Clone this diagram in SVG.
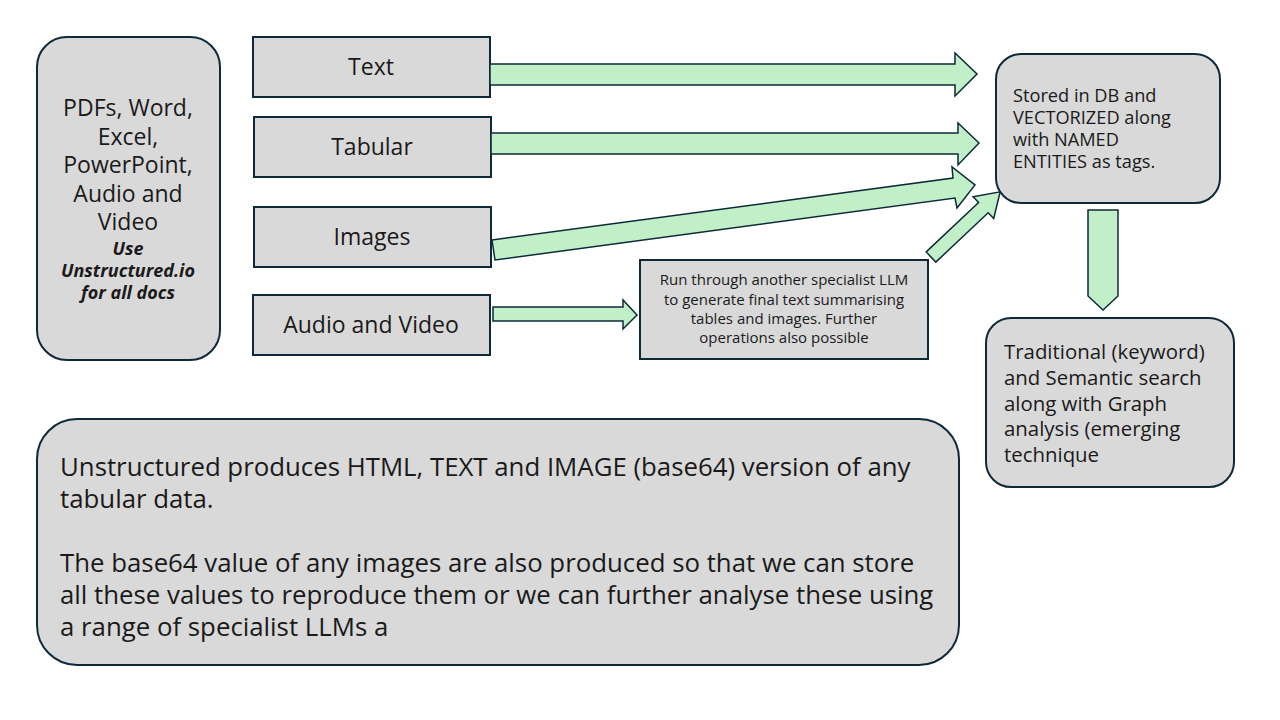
<svg xmlns="http://www.w3.org/2000/svg" width="1280" height="720" viewBox="0 0 1280 720">
<style>
.box{fill:#d9d9d9;stroke:#0e2a3a;stroke-width:2}
.arr{fill:#c1f0c8;stroke:#0e2a3a;stroke-width:1.5;stroke-linejoin:miter}
text{font-family:"Open Sans","Noto Sans",sans-serif;fill:#1a1a1a}
.c{text-anchor:middle}
</style>
<rect width="1280" height="720" fill="#ffffff"/>
<g id="sources">
<rect class="box" x="37" y="37" width="183" height="323" rx="30"/>
<text class="c" font-size="23"><tspan x="128" y="116">PDFs, Word,</tspan><tspan x="128" y="145">Excel,</tspan><tspan x="128" y="173">PowerPoint,</tspan><tspan x="128" y="202">Audio and</tspan><tspan x="128" y="230">Video</tspan></text>
<text class="c" font-size="18" font-weight="bold" font-style="italic" fill="#000"><tspan x="128" y="255">Use</tspan><tspan x="128" y="277">Unstructured.io</tspan><tspan x="128" y="299">for all docs</tspan></text>
</g>
<g id="text-node"><rect class="box" x="253" y="37" width="237" height="60"/><text class="c" x="371" y="75" font-size="23">Text</text></g>
<g id="tabular-node"><rect class="box" x="254" y="117" width="237" height="60"/><text class="c" x="372" y="155" font-size="23">Tabular</text></g>
<g id="images-node"><rect class="box" x="254" y="207" width="237" height="60"/><text class="c" x="372" y="245" font-size="23">Images</text></g>
<g id="av-node"><rect class="box" x="253" y="295" width="237" height="60"/><text class="c" x="371" y="333" font-size="23">Audio and Video</text></g>
<g id="llm-node"><rect class="box" x="640" y="260" width="288" height="99"/>
<text class="c" font-size="15"><tspan x="784" y="285">Run through another specialist LLM</tspan><tspan x="784" y="305">to generate final text summarising</tspan><tspan x="784" y="324">tables and images. Further</tspan><tspan x="784" y="343">operations also possible</tspan></text></g>
<g id="stored-node"><rect class="box" x="996" y="54" width="224" height="149" rx="25"/>
<text font-size="18.2"><tspan x="1013" y="102">Stored in DB and</tspan><tspan x="1013" y="124">VECTORIZED along</tspan><tspan x="1013" y="146">with NAMED</tspan><tspan x="1013" y="168">ENTITIES as tags.</tspan></text></g>
<g id="search-node"><rect class="box" x="986" y="318" width="248" height="169" rx="25"/>
<text font-size="20.4"><tspan x="1004" y="359">Traditional (keyword)</tspan><tspan x="1004" y="385">and Semantic search</tspan><tspan x="1004" y="411">along with Graph</tspan><tspan x="1004" y="436">analysis (emerging</tspan><tspan x="1004" y="462">technique</tspan></text></g>
<g id="note-node"><rect class="box" x="37" y="419" width="922" height="246" rx="40"/>
<text font-size="25.8"><tspan x="60" y="476">Unstructured produces HTML, TEXT and IMAGE (base64) version of any</tspan><tspan x="60" y="508">tabular data.</tspan><tspan x="60" y="572">The base64 value of any images are also produced so that we can store</tspan><tspan x="60" y="604">all these values to reproduce them or we can further analyse these using</tspan><tspan x="60" y="636">a range of specialist LLMs a</tspan></text></g>
<g id="connectors">
<polygon class="arr" points="490,64 955,64 955,53 977,74 955,96 955,85 490,85"/>
<polygon class="arr" points="491,133 958,133 958,123 979,143 958,165 958,154 491,154"/>
<polygon class="arr" points="492,240 953,178 952,167 975,185 957,208 955,198 495,260"/>
<g transform="translate(931,257) rotate(-43.3)"><polygon class="arr" points="0,-7 72,-7 72,-15 95,0 72,15 72,7 0,7"/></g>
<polygon class="arr" points="493,307 623,307 623,300 637,315 623,329 623,321 493,321"/>
<polygon class="arr" points="1088,210 1118,210 1118,296 1103,310 1088,296"/>
</g>
</svg>
